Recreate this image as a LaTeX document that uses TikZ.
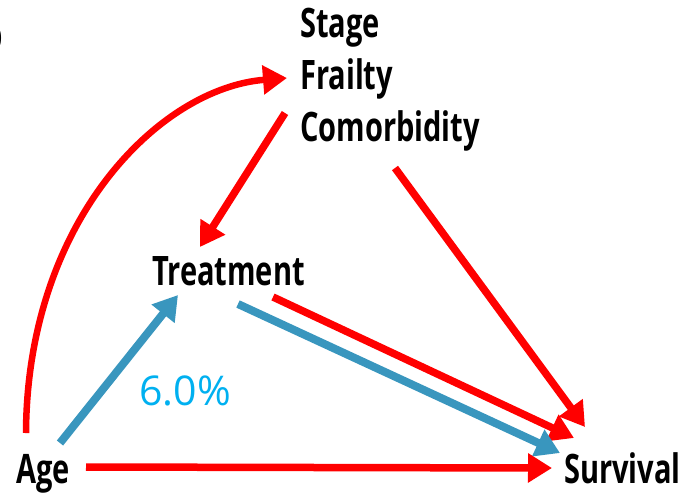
\documentclass[tikz,border=0pt]{standalone}
\usepackage{fontspec}
\setmainfont{Open Sans}
\newfontfamily\lblfont{Open Sans}[FakeStretch=0.715]
\usetikzlibrary{arrows.meta}

\definecolor{arrowred}{RGB}{255,0,0}
\definecolor{arrowblue}{RGB}{57,150,190}
\definecolor{pctblue}{RGB}{0,176,240}

\begin{document}
\begin{tikzpicture}[x=1pt,y=-1pt,
  lbl/.style={inner sep=0pt, anchor=base west, text=black,
    font=\lblfont\bfseries\fontsize{40.6}{48}\selectfont},
  pct/.style={inner sep=0pt, anchor=base west, text=pctblue,
    font=\fontsize{41}{48}\selectfont},
  redarrow/.style={draw=arrowred, line width=7.5pt,
    -{Triangle[length=24pt,width=28pt]}},
  bluearrow/.style={draw=arrowblue, line width=8pt,
    -{Triangle[length=24pt,width=28pt]}}]
\useasboundingbox (0,0) rectangle (692,493);

% panel letter at the left edge
\node[lbl, anchor=base east] (panel) at (3,49) {b};

% variables
\node[lbl] (stage)    at (300,37)  {Stage};
\node[lbl] (frailty)  at (300,89)  {Frailty};
\node[lbl] (comorb)   at (300,141) {Comorbidity};
\node[lbl] (treat)    at (152,285) {Treatment};
\node[lbl] (age)      at (16,483)  {Age};
\node[lbl] (survival) at (564,483) {Survival};
\node[pct] (share)    at (139,405) {6.0\%};

% connector end points
\coordinate (ageUp)      at (26,433);
\coordinate (frailIn)    at (287,78);
\coordinate (comorbOutA) at (285,113);
\coordinate (treatInTop) at (200,247);
\coordinate (ageOutT)    at (60,443);
\coordinate (treatInBot) at (178,295);
\coordinate (comorbOutB) at (395,168);
\coordinate (survInA)    at (585,427);
\coordinate (treatOutR)  at (273,297);
\coordinate (survInB)    at (574,438);
\coordinate (treatOutB)  at (238,304);
\coordinate (survInC)    at (560,453);
\coordinate (ageOutS)    at (86,467);
\coordinate (survInD)    at (552,468);

% connectors
\draw[redarrow, line width=6.5pt] (ageUp) .. controls (27,220) and (160,88) .. (frailIn);
\draw[redarrow] (comorbOutA) -- (treatInTop);
\draw[redarrow] (comorbOutB) -- (survInA);
\draw[redarrow] (treatOutR) -- (survInB);
\draw[bluearrow] (treatOutB) -- (survInC);
\draw[bluearrow] (ageOutT) -- (treatInBot);
\draw[redarrow] (ageOutS) -- (survInD);
\end{tikzpicture}
\end{document}
